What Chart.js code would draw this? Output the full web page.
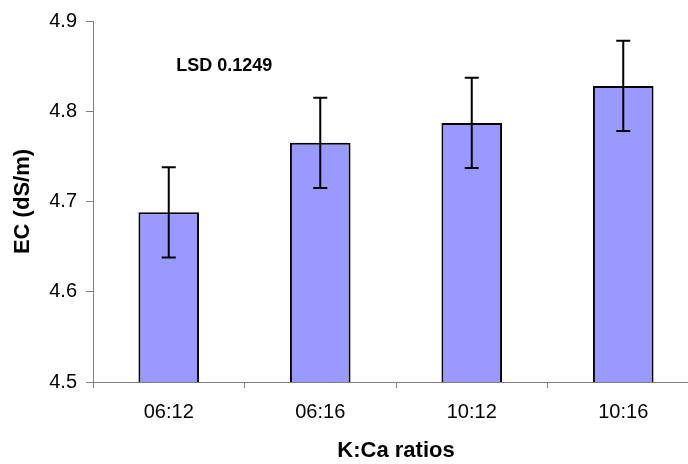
<!DOCTYPE html>
<html>
<head>
<meta charset="utf-8">
<script src="https://cdn.jsdelivr.net/npm/chart.js@4"></script>
<style>
  body { margin: 0; overflow: hidden; background: #fff; }
  #caja { width: 710px; height: 464px; }
</style>
</head>
<body>
<div id="caja"><canvas id="barras"></canvas></div>
<script>
// datos
const ratios = ['06:12', '06:16', '10:12', '10:16'];
const ec = [4.688, 4.765, 4.787, 4.828];
const errores = [0.05, 0.05, 0.05, 0.05];
const marcasY = [4.5, 4.6, 4.7, 4.8, 4.9];
const textoLSD = 'LSD 0.1249';

// barras de error y el texto LSD
const barrasError = {
    id: 'barrasError',
    afterDatasetsDraw(chart) {
        const ctx = chart.ctx;
        const x = chart.scales.x;
        const y = chart.scales.y;
        ctx.save();
        ctx.strokeStyle = '#000';
        ctx.lineWidth = 2;
        ec.forEach((v, i) => {
            const px = x.getPixelForValue(i);
            const arriba = y.getPixelForValue(v + errores[i]);
            const abajo = y.getPixelForValue(v - errores[i]);
            ctx.beginPath();
            ctx.moveTo(px, arriba); ctx.lineTo(px, abajo);
            ctx.moveTo(px - 7, arriba); ctx.lineTo(px + 7, arriba);
            ctx.moveTo(px - 7, abajo); ctx.lineTo(px + 7, abajo);
            ctx.stroke();
        });
        ctx.fillStyle = '#000';
        ctx.font = 'bold 18px "Liberation Sans", Arial, sans-serif';
        ctx.textAlign = 'center';
        ctx.textBaseline = 'middle';
        ctx.fillText(textoLSD, x.getPixelForValue(0.366), y.getPixelForValue(4.85));
        ctx.restore();
    }
};

const ctx = document.getElementById('barras');

new Chart(ctx, {
    type: 'bar',
    data: {
        labels: ratios,
        datasets: [{
            data: ec,
            backgroundColor: '#9999ff',
            borderColor: '#000',
            borderWidth: 2,
            barPercentage: 0.4,
            categoryPercentage: 1
        }]
    },
    options: {
        responsive: true,
        maintainAspectRatio: false,
        animation: false,
        layout: { padding: { top: 17, right: 11, left: 0, bottom: 0 } },
        plugins: { legend: { display: false }, tooltip: { enabled: false } },
        scales: {
            x: {
                grid: { drawOnChartArea: false, tickLength: 6, color: '#808080' },
                border: { color: '#808080', width: 1 },
                ticks: {
                    color: '#000',
                    padding: 12,
                    maxRotation: 0,
                    font: { family: '"Liberation Sans", Arial, sans-serif', size: 20 }
                },
                title: {
                    display: true,
                    text: 'K:Ca ratios',
                    color: '#000',
                    padding: { top: 0, bottom: 0 },
                    font: { family: '"Liberation Sans", Arial, sans-serif', size: 22, weight: 'bold' }
                },
                afterFit(scale) { scale.height = 82; }
            },
            y: {
                min: marcasY[0],
                max: marcasY[marcasY.length - 1],
                afterBuildTicks(scale) { scale.ticks = marcasY.map(v => ({ value: v })); },
                grid: { drawOnChartArea: false, tickLength: 7, color: '#808080' },
                border: { color: '#808080', width: 1 },
                ticks: {
                    color: '#000',
                    padding: 9,
                    callback: v => Number(v).toFixed(1),
                    font: { family: '"Liberation Sans", Arial, sans-serif', size: 20 }
                },
                title: {
                    display: true,
                    text: 'EC (dS/m)',
                    color: '#000',
                    padding: { top: 10, bottom: 0 },
                    font: { family: '"Liberation Sans", Arial, sans-serif', size: 22, weight: 'bold' }
                },
                afterFit(scale) { scale.width = 93; }
            }
        }
    },
    plugins: [barrasError]
});
</script>
</body>
</html>
